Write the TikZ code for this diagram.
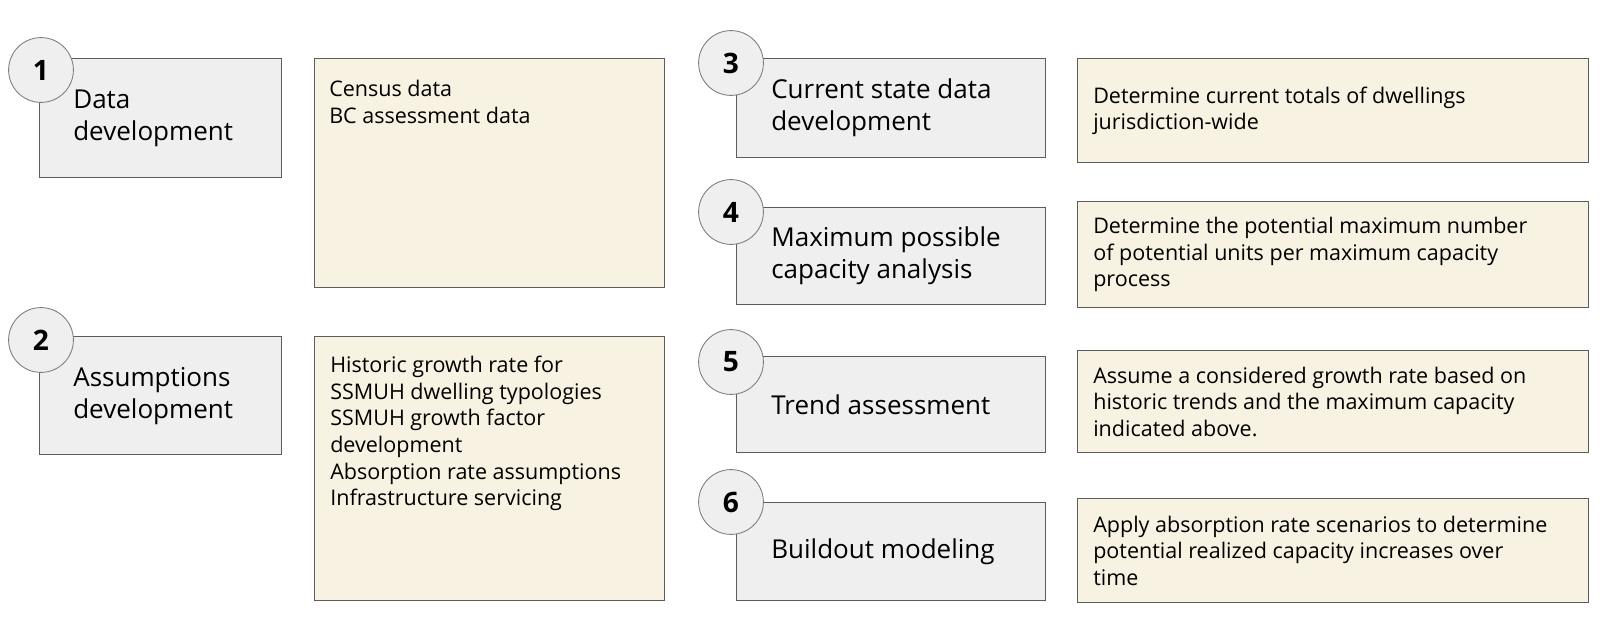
\documentclass[tikz,border=0pt]{standalone}
\usepackage{fontspec}
\setmainfont{Open Sans}
\usepackage{tikz}

\definecolor{boxgray}{HTML}{EFEFEF}
\definecolor{boxbeige}{HTML}{F7F2E1}
\definecolor{edgegray}{HTML}{5C5C5C}
\definecolor{ringgray}{HTML}{7A7A7A}

\begin{document}
\begin{tikzpicture}[x=0.025cm,y=-0.025cm,
		graybox/.style={draw=edgegray,line width=0.9pt,fill=boxgray,anchor=north west,inner sep=0pt},
		beigebox/.style={draw=edgegray,line width=0.9pt,fill=boxbeige,anchor=north west,inner sep=0pt},
		titletext/.style={anchor=west,align=left,inner sep=0pt,font=\fontsize{18.5}{22.8}\selectfont},
		desctext/.style={align=left,inner sep=0pt,font=\fontsize{15.3}{18.9}\selectfont},
		numring/.style={circle,draw=ringgray,line width=0.6pt,fill=boxgray,minimum size=1.62cm,inner sep=0pt,font=\fontsize{20}{24}\selectfont\bfseries}]
		\useasboundingbox (0,0) rectangle (1600,644);
		%left column, step 1
		\node[graybox,minimum width=6.05cm,minimum height=2.975cm] (g1) at (39,58) {};
		\node[titletext] (t1) at ([xshift=0.85cm]g1.west) {Data\\development};
		\node[beigebox,minimum width=8.75cm,minimum height=5.725cm] (b1) at (314,58) {};
		\node[desctext,anchor=north west] (d1) at ([xshift=0.375cm,yshift=-0.55cm]b1.north west) {Census data\\BC assessment  data};
		\node[numring] (n1) at (41,70) {1};
		%left column, step 2
		\node[graybox,minimum width=6.05cm,minimum height=2.95cm] (g2) at (39,336) {};
		\node[titletext] (t2) at ([xshift=0.85cm]g2.west) {Assumptions\\development};
		\node[beigebox,minimum width=8.75cm,minimum height=6.6cm] (b2) at (314,336) {};
		\node[desctext,anchor=north west] (d2) at ([xshift=0.4cm,yshift=-0.5cm]b2.north west) {Historic growth rate for\\SSMUH dwelling  typologies\\SSMUH growth factor\\development\\Absorption rate assumptions\\Infrastructure  servicing};
		\node[numring] (n2) at (41,340) {2};
		%right column, steps 3 to 6
		\foreach \n/\gy/\gh/\by/\bh/\cy/\title/\desc in {
			3/58/2.475/58/2.6/63/{Current state data\\development}/{Determine  current  totals of dwellings\\jurisdiction-wide},
			4/207/2.425/201/2.65/212/{Maximum possible\\capacity analysis}/{Determine  the potential  maximum  number\\of potential  units per maximum  capacity\\process},
			5/356/2.4/350/2.55/362/{Trend assessment}/{Assume a considered  growth rate based on\\historic trends and the maximum  capacity\\indicated  above.},
			6/502/2.45/498/2.6/502/{Buildout modeling}/{Apply absorption rate scenarios to determine\\potential realized  capacity increases  over\\time}}{
			\node[graybox,minimum width=7.725cm,minimum height=\gh cm] (g\n) at (736,\gy) {};
			\node[titletext] (t\n) at ([xshift=0.875cm]g\n.west) {\title};
			\node[beigebox,minimum width=12.775cm,minimum height=\bh cm] (b\n) at (1077,\by) {};
			\node[desctext,anchor=west] (d\n) at ([xshift=0.4cm]b\n.west) {\desc};
			\node[numring] (n\n) at (731,\cy) {\n};
		}
	\end{tikzpicture}
\end{document}
